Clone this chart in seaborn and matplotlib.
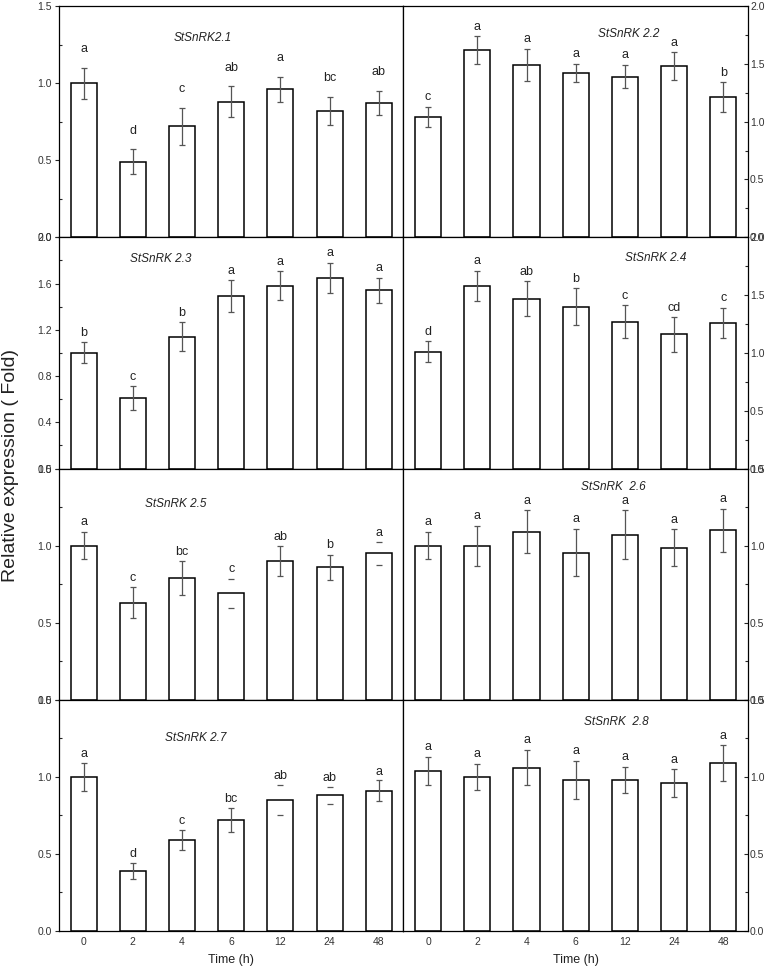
import numpy as np
import pandas as pd
import matplotlib
matplotlib.use('Agg')
import matplotlib.pyplot as plt
from matplotlib.ticker import MultipleLocator, FormatStrFormatter
import seaborn as sns

# Sampling times (h)
times = ['0', '2', '4', '6', '12', '24', '48']

# Gene names as printed in each panel
genes = ['StSnRK2.1', 'StSnRK 2.2', 'StSnRK 2.3', 'StSnRK 2.4',
         'StSnRK 2.5', 'StSnRK  2.6', 'StSnRK 2.7', 'StSnRK  2.8']

# Mean relative expression
mean_21 = [1.00, 0.49, 0.72, 0.88, 0.96, 0.82, 0.87]
mean_22 = [1.04, 1.62, 1.49, 1.42, 1.39, 1.48, 1.21]
mean_23 = [1.00, 0.61, 1.14, 1.49, 1.58, 1.65, 1.54]
mean_24 = [1.01, 1.58, 1.47, 1.40, 1.27, 1.16, 1.26]
mean_25 = [1.00, 0.63, 0.79, 0.69, 0.90, 0.86, 0.95]
mean_26 = [1.00, 1.00, 1.09, 0.955, 1.07, 0.985, 1.10]
mean_27 = [1.00, 0.39, 0.59, 0.72, 0.85, 0.88, 0.91]
mean_28 = [1.04, 1.00, 1.06, 0.98, 0.98, 0.96, 1.09]

# Standard errors
err_21 = [0.10, 0.08, 0.12, 0.10, 0.08, 0.09, 0.08]
err_22 = [0.09, 0.12, 0.14, 0.08, 0.10, 0.12, 0.13]
err_23 = [0.09, 0.10, 0.125, 0.14, 0.125, 0.13, 0.11]
err_24 = [0.09, 0.13, 0.15, 0.16, 0.14, 0.15, 0.13]
err_25 = [0.09, 0.10, 0.11, 0.095, 0.097, 0.08, 0.073]
err_26 = [0.09, 0.13, 0.14, 0.155, 0.16, 0.12, 0.14]
err_27 = [0.09, 0.05, 0.065, 0.08, 0.097, 0.055, 0.067]
err_28 = [0.09, 0.085, 0.115, 0.125, 0.085, 0.09, 0.115]

# Significance letters
sig_21 = ['a', 'd', 'c', 'ab', 'a', 'bc', 'ab']
sig_22 = ['c', 'a', 'a', 'a', 'a', 'a', 'b']
sig_23 = ['b', 'c', 'b', 'a', 'a', 'a', 'a']
sig_24 = ['d', 'a', 'ab', 'b', 'c', 'cd', 'c']
sig_25 = ['a', 'c', 'bc', 'c', 'ab', 'b', 'a']
sig_26 = ['a', 'a', 'a', 'a', 'a', 'a', 'a']
sig_27 = ['a', 'd', 'c', 'bc', 'ab', 'ab', 'a']
sig_28 = ['a', 'a', 'a', 'a', 'a', 'a', 'a']

# Bars whose error bar shows only the caps in the original
caps_only = {4: [3, 6], 6: [4, 5]}

means = [mean_21, mean_22, mean_23, mean_24, mean_25, mean_26, mean_27, mean_28]
errs = [err_21, err_22, err_23, err_24, err_25, err_26, err_27, err_28]
sigs = [sig_21, sig_22, sig_23, sig_24, sig_25, sig_26, sig_27, sig_28]

# y-axis top, major step per panel
y_top = [1.5, 2.0, 2.0, 2.0, 1.5, 1.5, 1.5, 1.5]
y_step = [0.5, 0.5, 0.4, 0.5, 0.5, 0.5, 0.5, 0.5]

# Gene name position (axes fraction) and letter offset (points)
title_pos = [(0.416, 0.862), (0.654, 0.881), (0.294, 0.906), (0.731, 0.91),
             (0.338, 0.847), (0.608, 0.919), (0.397, 0.834), (0.618, 0.902)]
letter_off = [9, 2.5, 2.5, 2.5, 2.5, 2.5, 2, 2.5]

sns.set_style('ticks')
plt.rcParams['font.family'] = ['Liberation Sans', 'DejaVu Sans']

fig = plt.figure(figsize=(7.78, 9.68), dpi=100)
gs = fig.add_gridspec(4, 2, left=0.0758, right=0.9614, top=0.9938, bottom=0.0382,
                      wspace=0, hspace=0)

for i in range(8):
    row, col = divmod(i, 2)
    ax = fig.add_subplot(gs[row, col])
    df = pd.DataFrame({'Time': times, 'Mean': means[i], 'SE': errs[i]})

    sns.barplot(data=df, x='Time', y='Mean', order=times, color='white',
                edgecolor='black', linewidth=1.1, width=0.53, errorbar=None,
                saturation=1, ax=ax)

    xs = np.arange(len(times))
    _, caplines, barcols = ax.errorbar(xs, df['Mean'], yerr=df['SE'], fmt='none',
                                       ecolor='#555555', elinewidth=0.9,
                                       capsize=2.3, capthick=0.9, zorder=5)
    # hide the vertical line of caps-only bars
    if i in caps_only:
        segs = barcols[0].get_segments()
        colors = ['none' if k in caps_only[i] else '#555555' for k in range(len(segs))]
        barcols[0].set_color(colors)

    for k, s in enumerate(sigs[i]):
        ax.annotate(s, (k, means[i][k] + errs[i][k]), xytext=(0, letter_off[i]),
                    textcoords='offset points', ha='center', va='bottom',
                    fontsize=9, color='#222222')

    ax.text(title_pos[i][0], title_pos[i][1], genes[i], transform=ax.transAxes,
            ha='center', va='center', fontsize=8.5, style='italic', color='#222222')

    ax.set_xlim(-0.5, 6.5)
    ax.set_ylim(0, y_top[i])
    ax.yaxis.set_major_locator(MultipleLocator(y_step[i]))
    ax.yaxis.set_minor_locator(MultipleLocator(y_step[i] / 2))
    ax.yaxis.set_major_formatter(FormatStrFormatter('%.1f'))

    for sp in ax.spines.values():
        sp.set_visible(True)
        sp.set_linewidth(0.9)
        sp.set_color('black')

    if col == 1:
        ax.yaxis.tick_right()
        ax.tick_params(axis='y', which='major', direction='in', length=3,
                       width=0.8, labelsize=7.5, pad=1.5, labelcolor='#333333')
    else:
        ax.tick_params(axis='y', which='major', direction='out', length=3,
                       width=0.8, labelsize=7.5, pad=2, labelcolor='#333333')
    ax.tick_params(axis='y', which='minor', direction='in', length=2.5, width=0.8)
    ax.tick_params(axis='x', which='major', direction='in', length=3, width=0.8,
                   labelsize=7.5, labelcolor='#333333', pad=4)
    ax.set_ylabel('')

    if row == 3:
        ax.set_xlabel('Time (h)', fontsize=9, labelpad=5, color='#222222')
    else:
        ax.set_xlabel('')
        ax.tick_params(axis='x', labelbottom=False)

fig.text(0.013, 0.5186, 'Relative expression ( Fold)', rotation=90, ha='center',
         va='center', fontsize=14, color='#222222')

fig.savefig('out.png', dpi=100)
